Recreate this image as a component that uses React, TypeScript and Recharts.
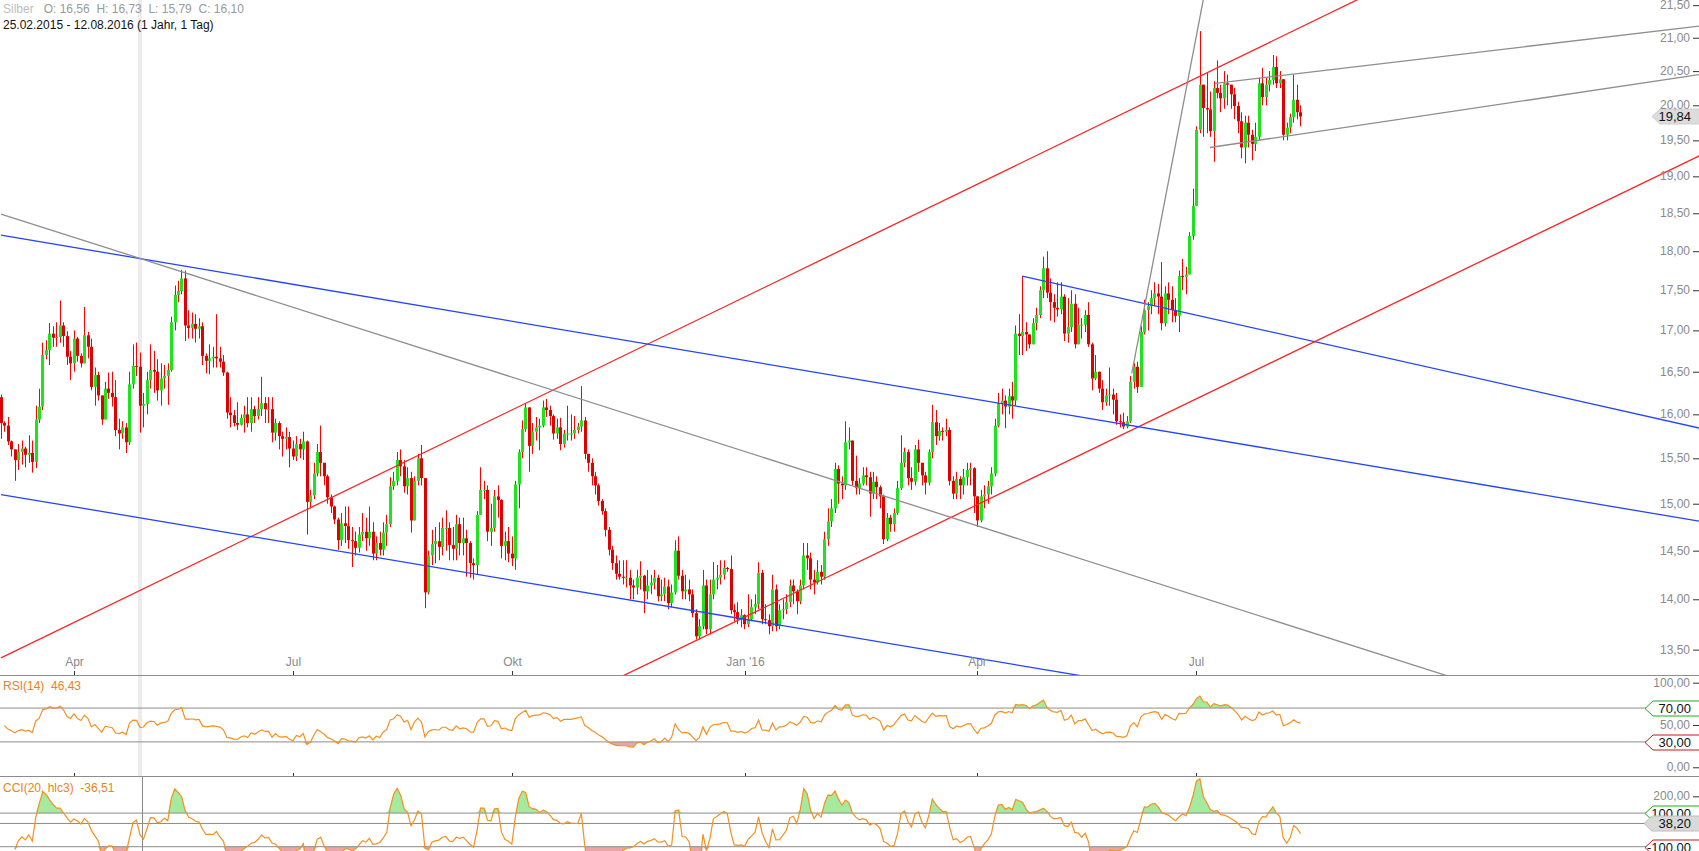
import { ComposedChart, Bar, Line, Area, XAxis, YAxis, ReferenceLine } from "recharts";

const W = 1699;
const MAIN_H = 675;
const RSI_H = 102;
const CCI_H = 74;
const FONT = "'Liberation Sans', Arial, sans-serif";

// daily closes, 25.02.2015 - 12.08.2016 (visible part)
const closes = [
  15.90, 15.87, 15.69, 15.60, 15.48, 15.57, 15.61, 15.54, 15.56, 15.46,
  15.94, 16.09, 16.70, 16.76, 16.96, 16.91, 16.92, 17.06, 16.93, 16.68,
  16.60, 16.90, 16.69, 16.60, 16.94, 16.80, 16.32, 16.46, 16.22, 15.94,
  16.30, 16.25, 16.20, 15.82, 15.78, 15.85, 15.68, 16.35, 16.57, 16.56,
  16.10, 16.12, 16.40, 16.52, 16.50, 16.28, 16.42, 16.45, 16.52, 17.10,
  17.44, 17.49, 17.65, 17.06, 17.03, 17.08, 17.02, 17.05, 16.69, 16.63,
  16.66, 16.68, 16.66, 16.62, 16.49, 16.02, 15.99, 15.90, 15.88, 15.96,
  16.00, 15.90, 16.06, 15.98, 16.06, 16.13, 16.06, 16.06, 15.79, 15.90,
  15.75, 15.72, 15.74, 15.61, 15.52, 15.66, 15.60, 15.69, 15.02, 15.09,
  15.33, 15.57, 15.45, 15.30, 15.07, 14.97, 14.83, 14.61, 14.79, 14.76,
  14.61, 14.60, 14.53, 14.67, 14.70, 14.63, 14.70, 14.47, 14.58, 14.51,
  14.69, 14.78, 15.19, 15.25, 15.48, 15.41, 15.19, 15.28, 14.82, 15.25,
  15.50, 15.28, 14.07, 14.45, 14.57, 14.60, 14.54, 14.74, 14.74, 14.56,
  14.52, 14.78, 14.58, 14.63, 14.58, 14.37, 14.35, 14.88, 15.15, 15.15,
  14.70, 14.74, 15.08, 15.04, 14.55, 14.60, 14.47, 14.42, 15.21, 15.57,
  15.83, 16.08, 15.64, 15.80, 15.85, 15.87, 16.08, 16.05, 15.98, 15.78,
  15.85, 15.66, 15.78, 15.78, 15.78, 15.82, 15.86, 15.93, 15.55, 15.45,
  15.30, 15.20, 15.03, 14.92, 14.72, 14.51, 14.37, 14.26, 14.23, 14.22,
  14.22, 14.14, 14.12, 14.22, 14.24, 14.08, 14.14, 14.17, 14.22, 14.03,
  14.05, 14.13, 13.96, 14.07, 14.50, 14.24, 14.08, 14.10, 14.05, 13.86,
  13.63, 13.73, 14.14, 13.70, 14.05, 14.20, 14.22, 14.25, 14.32, 14.31,
  13.89, 13.87, 13.80, 13.84, 13.75, 13.80, 13.92, 13.95, 14.27, 13.80,
  13.79, 13.73, 14.10, 13.73, 13.89, 13.90, 13.97, 14.14, 14.08, 13.98,
  14.14, 14.45, 14.42, 14.20, 14.17, 14.28, 14.23, 14.62, 14.81, 14.95,
  15.38, 15.22, 15.20, 15.68, 15.70, 15.25, 15.17, 15.22, 15.31, 15.29,
  15.11, 15.24, 15.18, 15.08, 14.62, 14.85, 14.78, 14.90, 15.17, 15.45,
  15.57, 15.28, 15.24, 15.60, 15.45, 15.31, 15.23, 15.57, 15.91, 15.75,
  15.81, 15.80, 15.82, 15.25, 15.11, 15.27, 15.20, 15.29, 15.37, 15.39,
  15.08, 14.82, 15.08, 15.10, 15.19, 15.33, 15.87, 16.13, 16.16, 16.09,
  16.21, 16.16, 16.96, 16.93, 16.98, 16.95, 16.83, 17.09, 17.19, 17.50,
  17.78, 17.47, 17.35, 17.28, 17.26, 17.42, 16.96, 17.04, 17.33, 16.83,
  17.07, 17.07, 17.19, 16.83, 16.42, 16.50, 16.30, 16.14, 16.22, 16.23,
  16.17, 15.92, 15.91, 15.86, 15.92, 16.38, 16.56, 16.32, 16.98, 17.25,
  17.30, 17.40, 17.46, 17.42, 17.09, 17.46, 17.38, 17.25, 17.18, 17.68,
  17.67, 17.70, 18.20, 18.60, 19.65, 20.30, 19.96, 19.94, 19.63, 20.25,
  20.18, 20.10, 20.32, 20.30, 20.16, 19.99, 19.77, 19.40, 19.75, 19.58,
  19.45, 19.55, 20.32, 20.12, 20.30, 20.37, 20.56, 20.32, 20.38, 19.58,
  19.68, 19.83, 20.08, 19.90, 19.84,
];

const highs = [
  16.23, 15.92, 15.97, 15.70, 15.60, 15.66, 15.70, 15.63, 15.76, 15.70,
  16.10, 16.30, 16.85, 16.88, 17.09, 17.05, 17.10, 17.37, 17.10, 16.99,
  16.75, 17.00, 16.92, 16.72, 17.29, 16.98, 16.90, 16.55, 16.50, 16.10,
  16.38, 16.49, 16.50, 16.40, 15.95, 15.92, 15.90, 16.50, 16.83, 16.85,
  16.73, 16.25, 16.50, 16.83, 16.75, 16.65, 16.60, 16.58, 16.60, 17.17,
  17.56, 17.62, 17.76, 17.75, 17.25, 17.22, 17.20, 17.15, 17.10, 16.72,
  16.83, 16.80, 17.20, 16.80, 16.70, 16.50, 16.20, 16.05, 16.14, 16.00,
  16.10, 16.20, 16.20, 16.10, 16.20, 16.44, 16.20, 16.20, 16.20, 15.95,
  15.92, 15.80, 15.85, 15.80, 15.70, 15.75, 15.72, 15.80, 15.70, 15.15,
  15.45, 15.66, 15.87, 15.45, 15.32, 15.10, 14.98, 14.85, 14.90, 14.97,
  14.97, 14.75, 14.70, 14.75, 14.90, 14.85, 14.97, 14.80, 14.65, 14.70,
  14.80, 14.88, 15.29, 15.35, 15.57, 15.60, 15.48, 15.40, 15.35, 15.30,
  15.55, 15.65, 14.72, 14.50, 14.72, 14.75, 14.80, 14.85, 14.93, 14.80,
  14.75, 14.88, 14.85, 14.85, 14.72, 14.60, 14.42, 14.92, 15.40, 15.25,
  15.20, 15.00, 15.15, 15.20, 15.05, 14.70, 14.75, 14.65, 15.25, 15.60,
  15.93, 16.13, 16.05, 15.90, 15.97, 15.95, 16.16, 16.18, 16.10, 16.00,
  15.95, 15.96, 15.82, 16.10, 16.00, 15.98, 15.90, 16.33, 15.97, 15.55,
  15.50, 15.35, 15.22, 15.05, 14.95, 14.75, 14.55, 14.45, 14.40, 14.40,
  14.40, 14.30, 14.20, 14.30, 14.39, 14.25, 14.30, 14.25, 14.30, 14.25,
  14.20, 14.22, 14.20, 14.15, 14.61, 14.65, 14.30, 14.25, 14.20, 14.10,
  13.90, 13.80, 14.30, 14.20, 14.20, 14.38, 14.35, 14.40, 14.40, 14.33,
  14.45, 13.95, 13.97, 13.90, 13.85, 14.05, 14.00, 14.05, 14.38, 14.30,
  13.95, 13.85, 14.25, 14.15, 13.95, 14.00, 14.05, 14.20, 14.20, 14.10,
  14.20, 14.58, 14.58, 14.48, 14.30, 14.40, 14.35, 14.70, 14.95, 15.05,
  15.45, 15.42, 15.30, 15.92, 15.85, 15.62, 15.53, 15.28, 15.40, 15.40,
  15.35, 15.35, 15.30, 15.20, 15.10, 14.90, 14.88, 14.95, 15.25, 15.76,
  15.62, 15.60, 15.40, 15.65, 15.71, 15.45, 15.35, 15.60, 16.11, 16.05,
  15.90, 15.85, 15.95, 15.85, 15.30, 15.35, 15.30, 15.38, 15.45, 15.45,
  15.40, 15.00, 15.15, 15.20, 15.25, 15.40, 15.95, 16.25, 16.30, 16.22,
  16.30, 16.38, 17.06, 17.20, 17.68, 17.10, 16.95, 17.15, 17.28, 17.55,
  17.93, 18.00, 17.65, 17.45, 17.60, 17.60, 17.45, 17.40, 17.50, 17.45,
  17.28, 17.15, 17.25, 17.35, 16.85, 16.70, 16.50, 16.40, 16.30, 16.55,
  16.30, 16.25, 16.00, 16.02, 15.98, 16.45, 16.60, 16.62, 17.05, 17.38,
  17.35, 17.50, 17.60, 17.58, 17.86, 17.55, 17.60, 17.55, 17.40, 17.75,
  17.90, 17.80, 18.25, 18.83, 19.70, 21.10, 20.30, 20.47, 20.20, 20.35,
  20.66, 20.30, 20.50, 20.45, 20.30, 20.25, 20.05, 19.90, 19.85, 19.85,
  19.65, 19.75, 20.40, 20.55, 20.40, 20.50, 20.74, 20.72, 20.50, 20.35,
  19.75, 19.88, 20.45, 20.30, 20.00,
];

const lows = [
  15.72, 15.80, 15.65, 15.52, 15.25, 15.37, 15.43, 15.40, 15.45, 15.34,
  15.39, 15.90, 16.05, 16.65, 16.58, 16.80, 16.80, 16.85, 16.80, 16.58,
  16.40, 16.50, 16.62, 16.55, 16.60, 16.66, 16.28, 16.10, 16.16, 15.88,
  15.95, 16.18, 16.09, 15.75, 15.60, 15.72, 15.56, 15.65, 16.30, 16.45,
  15.79, 15.85, 16.00, 16.30, 16.25, 16.16, 16.10, 16.30, 16.11, 16.50,
  17.00, 17.35, 17.45, 16.87, 16.90, 16.90, 16.85, 16.90, 16.58, 16.48,
  16.47, 16.55, 16.55, 16.55, 16.45, 15.95, 15.85, 15.86, 15.82, 15.87,
  15.79, 15.85, 15.80, 15.90, 15.94, 15.98, 15.90, 15.90, 15.68, 15.70,
  15.60, 15.52, 15.60, 15.40, 15.48, 15.47, 15.50, 15.48, 14.67, 14.95,
  15.05, 15.30, 15.30, 15.20, 15.00, 14.90, 14.78, 14.51, 14.55, 14.58,
  14.52, 14.33, 14.45, 14.48, 14.60, 14.50, 14.55, 14.40, 14.40, 14.45,
  14.45, 14.55, 14.75, 15.15, 15.20, 15.30, 15.12, 15.10, 14.69, 14.85,
  15.20, 15.20, 13.91, 14.05, 14.35, 14.37, 14.40, 14.45, 14.50, 14.40,
  14.40, 14.40, 14.45, 14.45, 14.23, 14.22, 14.20, 14.25, 14.98, 15.05,
  14.60, 14.55, 14.70, 14.85, 14.42, 14.40, 14.38, 14.34, 14.30, 14.95,
  15.50, 15.80, 15.35, 15.55, 15.70, 15.59, 15.85, 15.97, 15.87, 15.71,
  15.72, 15.59, 15.62, 15.70, 15.70, 15.72, 15.78, 15.80, 15.49, 15.35,
  15.20, 15.10, 14.98, 14.88, 14.65, 14.45, 14.30, 14.20, 14.20, 14.15,
  14.12, 14.00, 14.00, 14.05, 14.10, 13.86, 14.00, 14.05, 14.10, 13.98,
  13.98, 13.98, 13.90, 13.92, 14.05, 14.20, 14.00, 14.00, 13.98, 13.82,
  13.60, 13.60, 13.70, 13.65, 13.65, 14.00, 14.10, 14.15, 14.20, 14.28,
  13.85, 13.78, 13.75, 13.72, 13.70, 13.72, 13.78, 13.85, 13.90, 13.75,
  13.75, 13.65, 13.68, 13.68, 13.70, 13.80, 13.85, 13.92, 13.95, 13.85,
  13.95, 14.10, 14.30, 14.10, 14.05, 14.15, 14.15, 14.20, 14.55, 14.75,
  14.90, 15.00, 15.05, 15.15, 15.60, 15.20, 15.10, 15.10, 15.20, 15.20,
  14.86, 15.05, 15.05, 14.95, 14.57, 14.60, 14.70, 14.70, 14.88, 15.15,
  15.40, 15.20, 15.15, 15.20, 15.35, 15.20, 15.10, 15.20, 15.50, 15.65,
  15.70, 15.70, 15.75, 15.20, 15.05, 15.05, 15.05, 15.10, 15.20, 15.20,
  14.90, 14.75, 14.80, 14.95, 15.00, 15.10, 15.30, 15.85, 16.00, 15.84,
  16.00, 15.95, 16.10, 16.70, 16.70, 16.75, 16.78, 16.83, 17.00, 17.15,
  17.40, 17.40, 17.12, 17.10, 17.17, 17.20, 16.87, 16.85, 16.98, 16.78,
  16.90, 16.90, 16.98, 16.80, 16.28, 16.40, 16.25, 16.05, 16.10, 16.10,
  16.00, 15.88, 15.85, 15.83, 15.84, 15.90, 16.30, 16.25, 16.35, 16.95,
  17.00, 17.20, 17.30, 17.20, 17.00, 17.05, 17.20, 17.10, 17.10, 16.98,
  17.50, 17.45, 17.70, 18.15, 18.65, 19.60, 19.55, 19.60, 19.55, 19.20,
  20.10, 19.90, 19.95, 20.00, 19.95, 19.80, 19.60, 19.25, 19.18, 19.40,
  19.22, 19.35, 19.50, 20.00, 20.00, 20.20, 20.30, 20.25, 20.25, 19.50,
  19.50, 19.60, 19.75, 19.80, 19.70,
];

const firstOpen = 16.2;
const lastPrice = 19.84;
const crosshairIndex = 40;
const cciCursor = 38.2;

const monthTicks = [21, 84, 147, 214, 281, 344];
const monthLabels = ["Apr", "Jul", "Okt", "Jan '16", "Apr", "Jul"];
const priceTicks = [13.5, 14, 14.5, 15, 15.5, 16, 16.5, 17, 17.5, 18, 18.5, 19, 19.5, 20, 20.5, 21, 21.5];
const rsiTicks = [0, 50, 100];
const cciTicks = [200];

// drawn trend lines, anchors as [bar index, price]
const trendLines = [
  { kind: "red", from: [0, 13.42], to: [400, 21.84] },
  { kind: "red", from: [150, 12.79], to: [489, 19.29] },
  { kind: "blue", from: [0, 18.21], to: [489, 14.81] },
  { kind: "blue", from: [293.9, 17.68], to: [489, 15.84] },
  { kind: "blue", from: [0, 15.10], to: [400, 12.76] },
  { kind: "gray", from: [0, 18.49], to: [460, 12.79] },
  { kind: "gray", from: [325.4, 16.48], to: [348.7, 22.37] },
  { kind: "gray", from: [349.4, 20.32], to: [489, 21.18] },
  { kind: "gray", from: [347.9, 19.40], to: [489, 20.45] },
];

const lineColors: Record<string, string> = { red: "#ff2222", blue: "#2244ff", gray: "#8e8e8e" };

const xDomain = [-0.288, 488.63];
const priceDomain = [13.255, 21.58];
const rsiDomain = [-11.5, 109.1];
const cciDomain = [-125.6, 314.9];

// Wilder RSI; history before the first bar is unknown, so start from a neutral state
function calcRsi(values: number[], period: number) {
  const diffs = values.slice(1, period + 1).map((v, k) => Math.abs(v - values[k]));
  const seed = diffs.reduce((a, b) => a + b, 0) / diffs.length / 2;
  let ag = seed;
  let al = seed;
  const out: (number | null)[] = [null];
  for (let k = 1; k < values.length; k++) {
    const d = values[k] - values[k - 1];
    ag = (ag * (period - 1) + Math.max(d, 0)) / period;
    al = (al * (period - 1) + Math.max(-d, 0)) / period;
    out.push(al === 0 ? 100 : 100 - 100 / (1 + ag / al));
  }
  return out;
}

function calcCci(h: number[], l: number[], c: number[], period: number) {
  const tp = c.map((v, k) => (h[k] + l[k] + v) / 3);
  return tp.map((v, k) => {
    const n = Math.min(period, k + 1);
    if (n < 5) return null;
    const win = tp.slice(k - n + 1, k + 1);
    const mean = win.reduce((a, b) => a + b, 0) / n;
    const md = win.reduce((a, b) => a + Math.abs(b - mean), 0) / n;
    return md === 0 ? 0 : (v - mean) / (0.015 * md);
  });
}

const candles = closes.map((c, i) => {
  const open = i === 0 ? firstOpen : closes[i - 1];
  const high = Math.max(highs[i], open, c);
  const low = Math.min(lows[i], open, c);
  return { i, open, close: c, high, low };
});

const rsiValues = calcRsi(closes, 14);
const cciValues = calcCci(candles.map((d) => d.high), candles.map((d) => d.low), closes, 20);

const rows = candles.map((d, i) => {
  const r = rsiValues[i];
  const cc = cciValues[i];
  return {
    ...d,
    range: [d.low, d.high],
    rsi: r,
    rsiUp: r == null ? null : [70, Math.max(70, r)],
    rsiDn: r == null ? null : [Math.min(30, r), 30],
    cci: cc,
    cciUp: cc == null ? null : [100, Math.max(100, cc)],
    cciDn: cc == null ? null : [Math.min(-100, cc), -100],
  };
});

const fmt = (v: number) => v.toFixed(2).replace(".", ",");

const Candle = (props: any) => {
  const { x, y, width, height, payload } = props;
  if (!payload || x == null || y == null || height == null) return null;
  const top = Math.min(y, y + height);
  const h = Math.abs(height);
  const lh = Math.log(payload.high);
  const ll = Math.log(payload.low);
  const toY = (p: number) => (lh - ll > 0 ? top + ((lh - Math.log(p)) / (lh - ll)) * h : top);
  const cx = Math.round(x + width / 2) + 0.5;
  const up = payload.close >= payload.open;
  const bTop = toY(Math.max(payload.open, payload.close));
  const bBot = toY(Math.min(payload.open, payload.close));
  return (
    <g>
      <line x1={cx} x2={cx} y1={top} y2={top + h} stroke="#ff0000" strokeWidth={1} />
      <rect x={cx - 1.5} y={bTop} width={3} height={Math.max(1, bBot - bTop)} fill={up ? "#1ee41e" : "#e00000"} />
    </g>
  );
};

const ValueTick = (props: any) => {
  const { y, payload } = props;
  return (
    <g>
      <text x={W - 9} y={y + 4} textAnchor="end" fontSize={12} fontFamily={FONT} fill="#8a8a8a">
        {fmt(payload.value)}
      </text>
      <line x1={W - 6} x2={W} y1={y + 0.5} y2={y + 0.5} stroke="#333" />
    </g>
  );
};

const MonthTick = (props: any) => {
  const { x, payload, chartH, showLabel } = props;
  const idx = monthTicks.indexOf(payload.value);
  const px = Math.round(x) + 0.5;
  return (
    <g>
      {showLabel && (
        <text x={px} y={chartH - 9} textAnchor="middle" fontSize={12} fontFamily={FONT} fill="#8a8a8a">
          {monthLabels[idx]}
        </text>
      )}
      <line x1={px} x2={px} y1={chartH - 4} y2={chartH} stroke="#333" />
    </g>
  );
};

const tag = (text: string, stroke: string, fill: string, x0: number) => (props: any) => {
  const vb = props.viewBox || {};
  const yc = Math.round(vb.y ?? 0) + 0.5;
  const pts = `${x0},${yc} ${x0 + 8},${yc - 7.5} ${W + 2},${yc - 7.5} ${W + 2},${yc + 7.5} ${x0 + 8},${yc + 7.5}`;
  return (
    <g>
      <polygon points={pts} fill={fill} stroke={stroke} strokeWidth={1} />
      <text x={W - 8} y={yc + 4.5} textAnchor="end" fontSize={13} fontFamily={FONT} fill="#111">
        {text}
      </text>
    </g>
  );
};

const margin = { top: 0, right: 0, bottom: 0, left: 0 };

function App() {
  return (
    <div style={{ position: "absolute", left: 0, top: 0, width: W, height: 851, overflow: "hidden", background: "#fff", fontFamily: FONT }}>
      <div style={{ position: "absolute", left: 138, top: 0, width: 4, height: MAIN_H + RSI_H, background: "#ececec" }} />
      <div style={{ position: "absolute", left: 142, top: MAIN_H + RSI_H, width: 1, height: CCI_H, background: "#8a8a8a" }} />

      <div style={{ position: "absolute", left: 0, top: 0 }}>
        <ComposedChart width={W} height={MAIN_H} data={rows} margin={margin}>
          <XAxis dataKey="i" type="number" domain={xDomain} ticks={monthTicks} interval={0} mirror height={1}
            axisLine={false} tickLine={false} allowDataOverflow tick={<MonthTick chartH={MAIN_H} showLabel />} />
          <YAxis orientation="right" scale="log" domain={priceDomain} ticks={priceTicks} interval={0} mirror width={1}
            axisLine={false} tickLine={false} allowDataOverflow tick={<ValueTick />} />
          <Bar dataKey="range" barSize={3} shape={<Candle />} isAnimationActive={false} />
          {trendLines.map((t, k) => (
            <ReferenceLine key={k} ifOverflow="hidden" stroke={lineColors[t.kind]} strokeWidth={1.3}
              segment={[{ x: t.from[0], y: t.from[1] }, { x: t.to[0], y: t.to[1] }]} />
          ))}
          <ReferenceLine y={lastPrice} stroke="none" label={tag(fmt(lastPrice), "#cfcfcf", "#dcdcdc", W - 47)} />
        </ComposedChart>
      </div>

      <div style={{ position: "absolute", left: 0, top: MAIN_H }}>
        <ComposedChart width={W} height={RSI_H} data={rows} margin={margin}>
          <XAxis dataKey="i" type="number" domain={xDomain} ticks={monthTicks} interval={0} mirror height={1}
            axisLine={false} tickLine={false} allowDataOverflow tick={<MonthTick chartH={RSI_H} />} />
          <YAxis orientation="right" domain={rsiDomain} ticks={rsiTicks} interval={0} mirror width={1}
            axisLine={false} tickLine={false} allowDataOverflow tick={<ValueTick />} />
          <Area dataKey="rsiUp" fill="#a6eaa0" fillOpacity={1} stroke="none" isAnimationActive={false} />
          <Area dataKey="rsiDn" fill="#eaa6a6" fillOpacity={1} stroke="none" isAnimationActive={false} />
          <ReferenceLine y={70} stroke="#8c8c8c" label={tag("70,00", "#19b019", "#fff", W - 54)} />
          <ReferenceLine y={30} stroke="#8c8c8c" label={tag("30,00", "#c41a1a", "#fff", W - 54)} />
          <Line dataKey="rsi" stroke="#f5901e" strokeWidth={1.2} dot={false} isAnimationActive={false} />
        </ComposedChart>
      </div>

      <div style={{ position: "absolute", left: 0, top: MAIN_H + RSI_H }}>
        <ComposedChart width={W} height={CCI_H} data={rows} margin={margin}>
          <XAxis dataKey="i" type="number" domain={xDomain} hide allowDataOverflow />
          <YAxis orientation="right" domain={cciDomain} ticks={cciTicks} interval={0} mirror width={1}
            axisLine={false} tickLine={false} allowDataOverflow tick={<ValueTick />} />
          <Area dataKey="cciUp" fill="#a6eaa0" fillOpacity={1} stroke="none" isAnimationActive={false} />
          <Area dataKey="cciDn" fill="#eaa6a6" fillOpacity={1} stroke="none" isAnimationActive={false} />
          <ReferenceLine y={100} stroke="#8c8c8c" label={tag("100,00", "#19b019", "#fff", W - 54)} />
          <ReferenceLine y={-100} stroke="#8c8c8c" label={tag("-100,00", "#c41a1a", "#fff", W - 54)} />
          <ReferenceLine y={cciCursor} stroke="#8c8c8c" label={tag(fmt(cciCursor), "#bdbdbd", "#d9d9d9", W - 55)} />
          <ReferenceLine x={crosshairIndex} stroke="none" />
          <Line dataKey="cci" stroke="#f5901e" strokeWidth={1.2} dot={false} isAnimationActive={false} />
        </ComposedChart>
      </div>

      <div style={{ position: "absolute", left: 0, top: MAIN_H, width: W, height: 1, background: "#8c8c8c" }} />
      <div style={{ position: "absolute", left: 0, top: MAIN_H + RSI_H - 1, width: W, height: 1, background: "#8c8c8c" }} />

      <div style={{ position: "absolute", left: 3, top: 2, fontSize: 12, whiteSpace: "pre", color: "#9a9a9a" }}>
        <span style={{ color: "#bdbdbd" }}>Silber</span>{"   O: 16,56  H: 16,73  L: 15,79  C: 16,10"}
      </div>
      <div style={{ position: "absolute", left: 3, top: 18, fontSize: 12, whiteSpace: "pre", color: "#111" }}>
        25.02.2015 - 12.08.2016 (1 Jahr, 1 Tag)
      </div>
      <div style={{ position: "absolute", left: 3, top: MAIN_H + 4, fontSize: 12, whiteSpace: "pre", color: "#f0820f" }}>
        {"RSI(14)  46,43"}
      </div>
      <div style={{ position: "absolute", left: 3, top: MAIN_H + RSI_H + 4, fontSize: 12, whiteSpace: "pre", color: "#f0820f" }}>
        {"CCI(20, hlc3)  -36,51"}
      </div>
    </div>
  );
}

export default App;
